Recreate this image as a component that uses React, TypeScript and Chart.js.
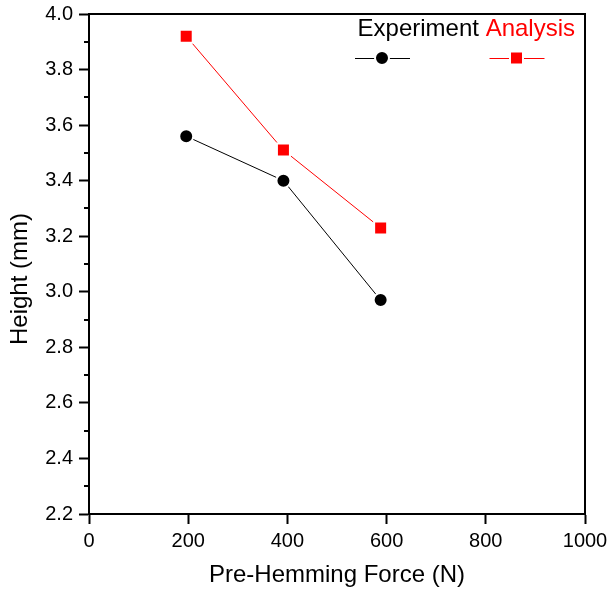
import React, { useEffect, useRef } from "react";
import { Chart, registerables } from "chart.js";

Chart.register(...registerables);

// ---- data ----
const forceN = [196, 392, 588];
const experimentHeight = [3.56, 3.4, 2.97];
const analysisHeight = [3.92, 3.51, 3.23];
const seriesNames = ["Experiment", "Analysis"];
const seriesColors = ["#000000", "#ff0000"];
const xMin = 0;
const xMax = 1000;
const xStep = 200;
const yMin = 2.2;
const yMax = 4.0;
const yStep = 0.2;
const yMinorTicks = [2.3, 2.5, 2.7, 2.9, 3.1, 3.3, 3.5, 3.7, 3.9];
const xTitle = "Pre-Hemming Force (N)";
const yTitle = "Height (mm)";

const FONT = "'Liberation Sans', Arial, sans-serif";

const decorPlugin = {
  id: "decor",
  afterDraw(chart: any) {
    const { ctx, chartArea } = chart;
    const { left, top, right, bottom } = chartArea;
    const y = chart.scales.y;
    ctx.save();
    // frame top/right
    ctx.strokeStyle = "#000";
    ctx.lineWidth = 2;
    ctx.beginPath();
    ctx.moveTo(left - 1, top);
    ctx.lineTo(right, top);
    ctx.lineTo(right, bottom + 1);
    ctx.stroke();
    // minor ticks on y
    ctx.beginPath();
    yMinorTicks.forEach((v) => {
      const py = Math.round(y.getPixelForValue(v));
      ctx.moveTo(left, py);
      ctx.lineTo(left - 5, py);
    });
    ctx.stroke();

    // y title
    ctx.save();
    ctx.font = `24px ${FONT}`;
    ctx.fillStyle = "#000";
    ctx.textAlign = "center";
    ctx.textBaseline = "alphabetic";
    ctx.translate(27, (top + bottom) / 2 + 15);
    ctx.rotate(-Math.PI / 2);
    ctx.fillText(yTitle, 0, 0);
    ctx.restore();

    // legend
    ctx.font = `24px ${FONT}`;
    ctx.textBaseline = "alphabetic";
    ctx.textAlign = "left";
    const wE = ctx.measureText(seriesNames[0]).width;
    const wS = ctx.measureText(" ").width;
    const wA = ctx.measureText(seriesNames[1]).width;
    const endX = right - 10;
    const aX = endX - wA;
    const eX = aX - wS - wE;
    const baseY = top + 22;
    ctx.fillStyle = seriesColors[0];
    ctx.fillText(seriesNames[0], eX, baseY);
    ctx.fillStyle = seriesColors[1];
    ctx.fillText(seriesNames[1], aX, baseY);

    const symY = top + 44;
    const drawSym = (cx: number, color: string, kind: string) => {
      ctx.strokeStyle = color;
      ctx.lineWidth = 1;
      ctx.beginPath();
      ctx.moveTo(cx - 27, symY + 0.5);
      ctx.lineTo(cx + 28, symY + 0.5);
      ctx.stroke();
      ctx.fillStyle = color;
      ctx.strokeStyle = "#fff";
      ctx.lineWidth = 2;
      ctx.beginPath();
      if (kind === "circle") {
        ctx.arc(cx, symY, 7, 0, Math.PI * 2);
      } else {
        ctx.rect(cx - 6.5, symY - 6.5, 13, 13);
      }
      ctx.fill();
      ctx.stroke();
    };
    drawSym(right - 203, seriesColors[0], "circle");
    drawSym(right - 68.5, seriesColors[1], "rect");
    ctx.restore();
  },
};

const zeroPad = (s: any) => {
  s.paddingLeft = 0;
  s.paddingRight = 0;
  s.paddingTop = 0;
  s.paddingBottom = 0;
};

export default function App() {
  const ref = useRef<HTMLCanvasElement | null>(null);

  useEffect(() => {
    if (!ref.current) return;
    const chart = new Chart(ref.current, {
      type: "line",
      data: {
        datasets: [
          {
            label: seriesNames[0],
            data: forceN.map((x, i) => ({ x, y: experimentHeight[i] })),
            borderColor: seriesColors[0],
            backgroundColor: seriesColors[0],
            borderWidth: 1,
            pointStyle: "circle",
            pointRadius: 7,
            pointBorderColor: "#ffffff",
            pointBorderWidth: 2,
            pointBackgroundColor: seriesColors[0],
            tension: 0,
          },
          {
            label: seriesNames[1],
            data: forceN.map((x, i) => ({ x, y: analysisHeight[i] })),
            borderColor: seriesColors[1],
            backgroundColor: seriesColors[1],
            borderWidth: 1,
            pointStyle: "rect",
            pointRadius: 9.2,
            pointBorderColor: "#ffffff",
            pointBorderWidth: 2,
            pointBackgroundColor: seriesColors[1],
            tension: 0,
          },
        ],
      },
      options: {
        animation: false,
        responsive: false,
        devicePixelRatio: 1,
        layout: { padding: { top: 14, right: 23, left: 0, bottom: 0 } },
        plugins: {
          legend: { display: false },
          tooltip: { enabled: false },
        },
        scales: {
          x: {
            type: "linear",
            min: xMin,
            max: xMax,
            afterFit: (s: any) => {
              s.height = 78;
              zeroPad(s);
            },
            ticks: {
              stepSize: xStep,
              color: "#000",
              padding: 5,
              maxRotation: 0,
              font: { family: FONT, size: 20 },
              callback: (v: any) => String(v),
            },
            grid: {
              drawOnChartArea: false,
              drawTicks: true,
              tickLength: 10,
              tickWidth: 2,
              tickColor: "#000",
            },
            border: { display: true, color: "#000", width: 2 },
            title: {
              display: true,
              text: xTitle,
              color: "#000",
              font: { family: FONT, size: 24 },
              padding: { top: 0, bottom: 2 },
            },
          },
          y: {
            type: "linear",
            min: yMin,
            max: yMax,
            afterFit: (s: any) => {
              s.width = 89;
              zeroPad(s);
            },
            ticks: {
              stepSize: yStep,
              color: "#000",
              padding: 6,
              font: { family: FONT, size: 20 },
              callback: (v: any) => Number(v).toFixed(1),
            },
            grid: {
              drawOnChartArea: false,
              drawTicks: true,
              tickLength: 10,
              tickWidth: 2,
              tickColor: "#000",
            },
            border: { display: true, color: "#000", width: 2 },
            title: { display: false },
          },
        },
      },
      plugins: [decorPlugin],
    } as any);
    return () => chart.destroy();
  }, []);

  return (
    <div style={{ position: "fixed", left: 0, top: 0, width: 608, height: 592, background: "#fff" }}>
      <canvas ref={ref} width={608} height={592} style={{ display: "block" }} />
    </div>
  );
}
